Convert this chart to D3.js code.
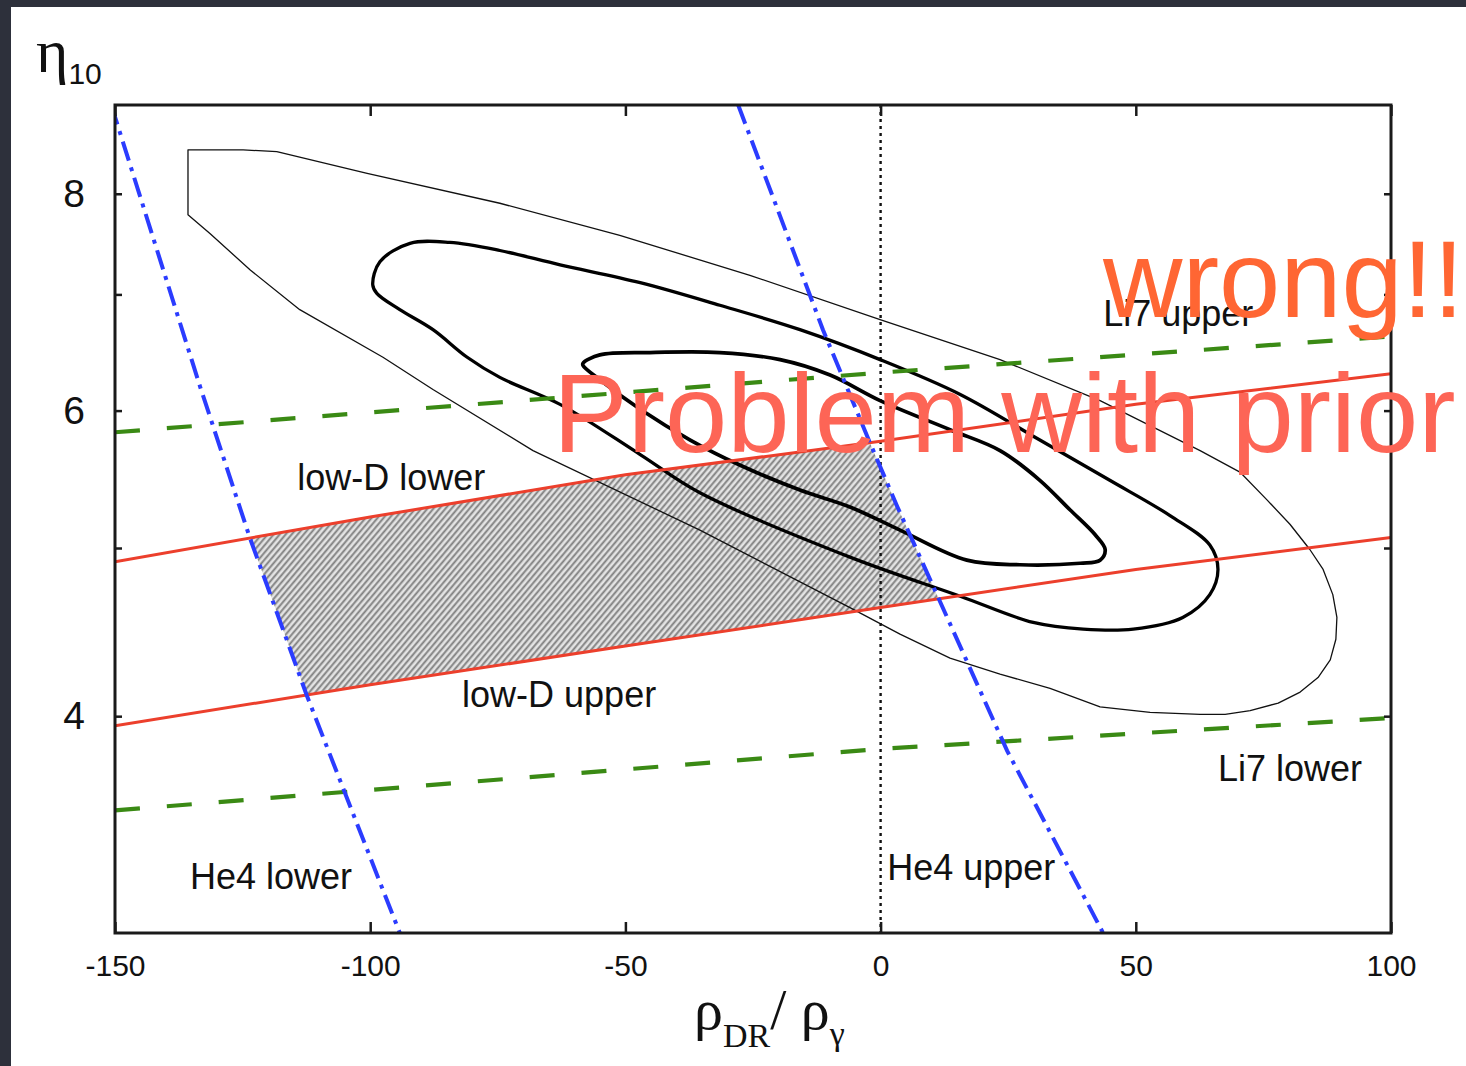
<!DOCTYPE html>
<html><head><meta charset="utf-8">
<script src="https://cdn.jsdelivr.net/npm/d3@7"></script>
<style>body{margin:0;background:#2d303b;overflow:hidden} svg{display:block}</style>
</head><body>
<svg id="c" width="1466" height="1066"></svg>
<script>
// ---- data (x = rho_DR/rho_gamma, y = eta_10) ----
const xTicks = [-150, -100, -50, 0, 50, 100];
const yTicks = [4, 5, 6, 7, 8];
const yLabels = [4, 6, 8];

const li7Upper = [[-150, 5.83], [0, 6.31], [100, 6.62]];
const li7Lower = [[-150, 3.53], [0, 3.83], [100, 3.99]];
const lowDLower = [[-150, 4.91], [-100, 5.21], [-50, 5.51], [0, 5.76], [50, 6.05], [100, 6.30]];
const lowDUpper = [[-150, 3.95], [-100, 4.17], [-50, 4.39], [0, 4.62], [50, 4.86], [100, 5.07]];
const he4Lower = [[-150.5, 9.0], [-150, 8.86], [-133.3, 6.19], [-123.6, 5.07], [-112.4, 4.11], [-94.2, 3.0]];
const he4Upper = [[-27.9, 9.0], [-11.3, 6.68], [-2.1, 5.75], [3.3, 5.28], [24.8, 3.82], [43.6, 3.0]];

const contourOuter = [[-135.7, 8.48], [-124.9, 8.48], [-118.3, 8.46], [-100.6, 8.22], [-74.6, 7.90], [-51.1, 7.57],
  [-25.6, 7.18], [-0.1, 6.77], [23.4, 6.42], [43.0, 6.08], [62.6, 5.69], [70.4, 5.53], [75.7, 5.33], [80.2, 5.16],
  [84.1, 4.99], [86.7, 4.86], [88.6, 4.70], [89.4, 4.56], [89.2, 4.43], [88.1, 4.31], [85.7, 4.21], [82.2, 4.13],
  [77.9, 4.07], [72.4, 4.03], [67.5, 4.01], [62.6, 4.01], [52.8, 4.02], [43.0, 4.05], [33.2, 4.15], [23.4, 4.23],
  [13.6, 4.32], [3.8, 4.46], [-6.0, 4.62], [-35.4, 5.12], [-68.1, 5.69], [-87.7, 6.17], [-97.5, 6.44],
  [-113.8, 6.86], [-123.5, 7.23], [-131.4, 7.59], [-135.7, 7.78]];
const contourMiddle = [[-99.5, 7.09], [-98.1, 7.31], [-92.2, 7.49], [-84.4, 7.50], [-74.6, 7.42], [-62.8, 7.28],
  [-47.1, 7.11], [-31.5, 6.90], [-15.8, 6.68], [-0.1, 6.42], [15.6, 6.13], [31.2, 5.77], [44.9, 5.47], [56.7, 5.22],
  [64.5, 5.02], [66.1, 4.86], [64.5, 4.70], [59.2, 4.56], [49.5, 4.49], [39.7, 4.49], [29.9, 4.53], [15.6, 4.69],
  [-6.0, 4.94], [-35.4, 5.38], [-47.1, 5.66], [-62.8, 6.05], [-74.6, 6.27], [-81.0, 6.44], [-87.7, 6.68],
  [-94.2, 6.86], [-98.7, 7.01]];
const contourInner = [[-58.3, 6.39], [-55.0, 6.46], [-45.2, 6.48], [-31.5, 6.48], [-19.7, 6.42], [-9.9, 6.29],
  [-0.1, 6.08], [13.6, 5.85], [23.4, 5.69], [31.2, 5.47], [37.1, 5.26], [42.0, 5.09], [44.0, 4.99], [43.0, 4.92],
  [39.1, 4.90], [27.3, 4.89], [16.9, 4.92], [3.8, 5.12], [-6.0, 5.28], [-15.8, 5.40], [-27.5, 5.58], [-37.3, 5.77],
  [-47.1, 6.01], [-55.0, 6.25], [-58.3, 6.37]];

const annotations = [
  {text: "low-D lower", x: -114.3, y: 5.40},
  {text: "low-D upper", x: -82.0, y: 4.05},
  {text: "Li7 upper", x: 43.6, y: 6.71},
  {text: "Li7 lower", x: 66.1, y: 3.67},
  {text: "He4 lower", x: -135.3, y: 3.18},
  {text: "He4 upper", x: 1.3, y: 3.22}
];

// ---- layout ----
const W = 1466, H = 1066;
const L = 115, R = 1391, T = 105, B = 933;
const svg = d3.select("#c");
svg.append("rect").attr("x", 11).attr("y", 7).attr("width", W - 11).attr("height", H - 7).attr("fill", "#ffffff");

const x = d3.scaleLinear().domain([-150, 100]).range([L, R]);
const y = d3.scaleLog().domain([3, 9]).range([B, T]);

const defs = svg.append("defs");
defs.append("clipPath").attr("id", "plotClip").append("rect")
  .attr("x", L).attr("y", T).attr("width", R - L).attr("height", B - T);

const line = d3.line().x(d => x(d[0])).y(d => y(d[1]));
const closedLinear = d3.line().x(d => x(d[0])).y(d => y(d[1])).curve(d3.curveLinearClosed);
const closedSmooth = d3.line().x(d => x(d[0])).y(d => y(d[1])).curve(d3.curveCatmullRomClosed.alpha(0.5));

// hatch pattern
const pat = defs.append("pattern").attr("id", "hatch").attr("patternUnits", "userSpaceOnUse")
  .attr("width", 4.6).attr("height", 10).attr("patternTransform", "rotate(40)");
pat.append("rect").attr("width", 4.6).attr("height", 10).attr("fill", "#e4e4e4");
pat.append("line").attr("x1", 1.2).attr("x2", 1.2).attr("y1", 0).attr("y2", 10).attr("stroke", "#808080").attr("stroke-width", 1.9);

defs.append("clipPath").attr("id", "bandD").append("path")
  .attr("d", line(lowDLower.concat(lowDUpper.slice().reverse())) + "Z");
defs.append("clipPath").attr("id", "bandHe").append("path")
  .attr("d", line(he4Lower.concat(he4Upper.slice().reverse())) + "Z");

const plot = svg.append("g").attr("clip-path", "url(#plotClip)");

// hatched allowed region
plot.append("g").attr("clip-path", "url(#bandHe)")
  .append("rect").attr("clip-path", "url(#bandD)")
  .attr("x", L).attr("y", T).attr("width", R - L).attr("height", B - T).attr("fill", "url(#hatch)");

// zero line
plot.append("line").attr("x1", x(0)).attr("x2", x(0)).attr("y1", y(9)).attr("y2", y(3))
  .attr("stroke", "#111").attr("stroke-width", 2.4).attr("stroke-dasharray", "3,4");

// contours
plot.append("path").attr("d", closedLinear(contourOuter)).attr("fill", "none").attr("stroke", "#111")
  .attr("stroke-width", 1.3).attr("stroke-linejoin", "round");
plot.append("path").attr("d", closedSmooth(contourMiddle)).attr("fill", "none").attr("stroke", "#000").attr("stroke-width", 3.3);
plot.append("path").attr("d", closedSmooth(contourInner)).attr("fill", "none").attr("stroke", "#000").attr("stroke-width", 3.7);

// constraint lines
[li7Upper, li7Lower].forEach(d => plot.append("path").attr("d", line(d)).attr("fill", "none")
  .attr("stroke", "#3a8a14").attr("stroke-width", 4.2).attr("stroke-dasharray", "25,27"));
[lowDLower, lowDUpper].forEach(d => plot.append("path").attr("d", line(d)).attr("fill", "none")
  .attr("stroke", "#ec3f2c").attr("stroke-width", 3));
[he4Lower, he4Upper].forEach(d => plot.append("path").attr("d", line(d)).attr("fill", "none")
  .attr("stroke", "#2b3cff").attr("stroke-width", 4).attr("stroke-dasharray", "20,7,4,7"));

// frame
svg.append("rect").attr("x", L).attr("y", T).attr("width", R - L).attr("height", B - T)
  .attr("fill", "none").attr("stroke", "#1a1a1a").attr("stroke-width", 3);

// axes (inward ticks)
const fontSans = "'Liberation Sans', Arial, Helvetica, sans-serif";
const xAxisB = d3.axisBottom(x).tickValues(xTicks).tickSize(-11).tickPadding(22).tickFormat(d => String(d));
const gxb = svg.append("g").attr("transform", `translate(0,${B})`).call(xAxisB);
const xAxisT = d3.axisTop(x).tickValues(xTicks).tickSize(-11).tickFormat("");
const gxt = svg.append("g").attr("transform", `translate(0,${T})`).call(xAxisT);
const yAxisL = d3.axisLeft(y).tickValues(yTicks).tickSize(-7).tickPadding(30)
  .tickFormat(d => yLabels.includes(d) ? String(d) : "");
const gyl = svg.append("g").attr("transform", `translate(${L},0)`).call(yAxisL);
const yAxisR = d3.axisRight(y).tickValues(yTicks).tickSize(-7).tickFormat("");
const gyr = svg.append("g").attr("transform", `translate(${R},0)`).call(yAxisR);
[gxb, gxt, gyl, gyr].forEach(g => {
  g.select(".domain").remove();
  g.selectAll(".tick line").attr("stroke", "#1a1a1a").attr("stroke-width", 2.5);
});
gxb.selectAll("text").attr("font-family", fontSans).attr("font-size", 30).attr("fill", "#111");
gyl.selectAll("text").attr("font-family", fontSans).attr("font-size", 39).attr("fill", "#111");

// annotations
annotations.forEach(a => svg.append("text").attr("x", x(a.x)).attr("y", y(a.y))
  .attr("font-family", fontSans).attr("font-size", 36).attr("fill", "#111").text(a.text));

// axis titles
const fontSerif = "'Liberation Serif', 'Times New Roman', serif";
const yt = svg.append("text").attr("x", 36).attr("y", 72).attr("font-family", fontSerif).attr("font-size", 62).attr("fill", "#111");
yt.append("tspan").text("η");
yt.append("tspan").attr("font-family", fontSans).attr("font-size", 30).attr("dy", 12).text("10");

const xt = svg.append("text").attr("x", 694).attr("y", 1029).attr("font-family", fontSerif).attr("font-size", 58).attr("fill", "#111");
xt.append("tspan").text("ρ");
xt.append("tspan").attr("font-size", 34).attr("dy", 18).text("DR");
xt.append("tspan").attr("dy", -18).text("/ ρ");
xt.append("tspan").attr("font-size", 34).attr("dy", 16).text("γ");

// overlay remarks
svg.append("text").attr("x", 1103).attr("y", 317).attr("font-family", fontSans).attr("font-size", 110)
  .attr("fill", "#ff6633").text("wrong!!");
svg.append("text").attr("x", 553).attr("y", 452).attr("font-family", fontSans).attr("font-size", 112)
  .attr("fill", "#fd6556").text("Problem with prior");
</script>
</body></html>
